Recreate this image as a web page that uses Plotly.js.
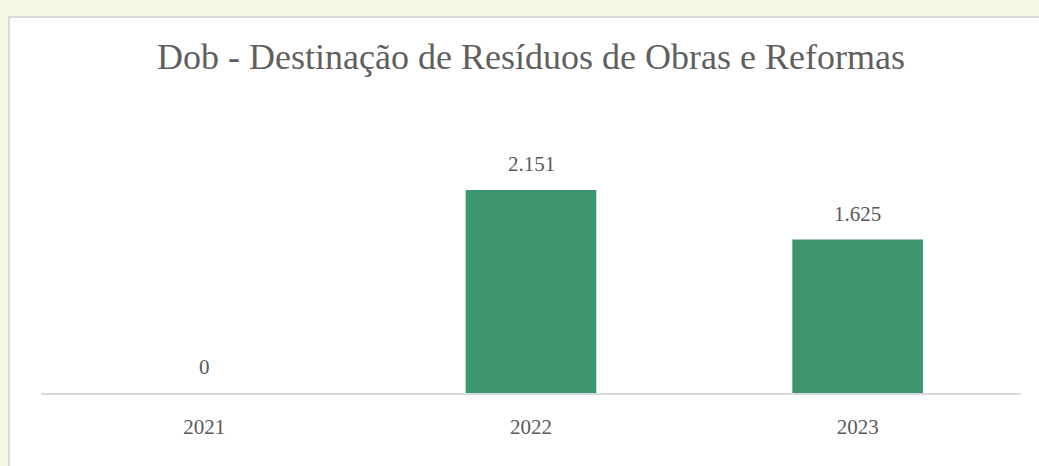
<!DOCTYPE html>
<html>
<head>
<meta charset="utf-8">
<script src="https://cdn.plot.ly/plotly-3.0.1.min.js"></script>
<style>
html,body{margin:0;padding:0;width:1039px;height:466px;overflow:hidden;background:#f5f7e4;}
#panel{position:absolute;left:8px;top:16px;width:1100px;height:500px;background:#ffffff;border:2px solid #dadada;box-sizing:border-box;}
#chart{position:absolute;left:0;top:0;width:1039px;height:466px;}
</style>
</head>
<body>
<div id="panel"></div>
<div id="chart"></div>
<script>
const categories = ["2021", "2022", "2023"];
const values = [0, 2151, 1625];
const labels = ["0", "2.151", "1.625"];
const titleText = "Dob - Destinação de Resíduos de Obras e Reformas";

const fontFam = "Liberation Serif, Times New Roman, serif";
const textColor = "#595959";
const idx = categories.map((c, i) => i);

const trace = {
  type: "bar",
  x: idx,
  y: values,
  width: 0.4,
  marker: {color: "#3d9670"},
  hoverinfo: "none"
};

const annotations = idx.map(i => ({
  x: i, y: values[i], xref: "x", yref: "y",
  text: labels[i], showarrow: false,
  yanchor: "bottom", yshift: 12,
  font: {family: fontFam, size: 21, color: textColor}
}));

const layout = {
  width: 1039, height: 466,
  margin: {l: 41, r: 18, t: 157, b: 73},
  paper_bgcolor: "rgba(0,0,0,0)",
  plot_bgcolor: "rgba(0,0,0,0)",
  showlegend: false,
  title: {
    text: titleText,
    font: {family: fontFam, size: 36, color: "#5f5f5f"},
    xref: "paper", x: 0.5, xanchor: "center",
    yref: "container", y: 1 - 56/466, yanchor: "middle"
  },
  xaxis: {
    type: "linear",
    range: [-0.5, 2.5],
    tickmode: "array", tickvals: idx, ticktext: categories,
    showline: true, linecolor: "#d9d9d9", linewidth: 2,
    showgrid: false, zeroline: false,
    ticks: "outside", ticklen: 14, tickcolor: "rgba(0,0,0,0)",
    tickfont: {family: fontFam, size: 21, color: textColor}
  },
  yaxis: {
    range: [0, 2500],
    visible: false,
    showgrid: false, zeroline: false
  },
  annotations: annotations
};

Plotly.newPlot("chart", [trace], layout, {displayModeBar: false, staticPlot: true});
</script>
</body>
</html>
